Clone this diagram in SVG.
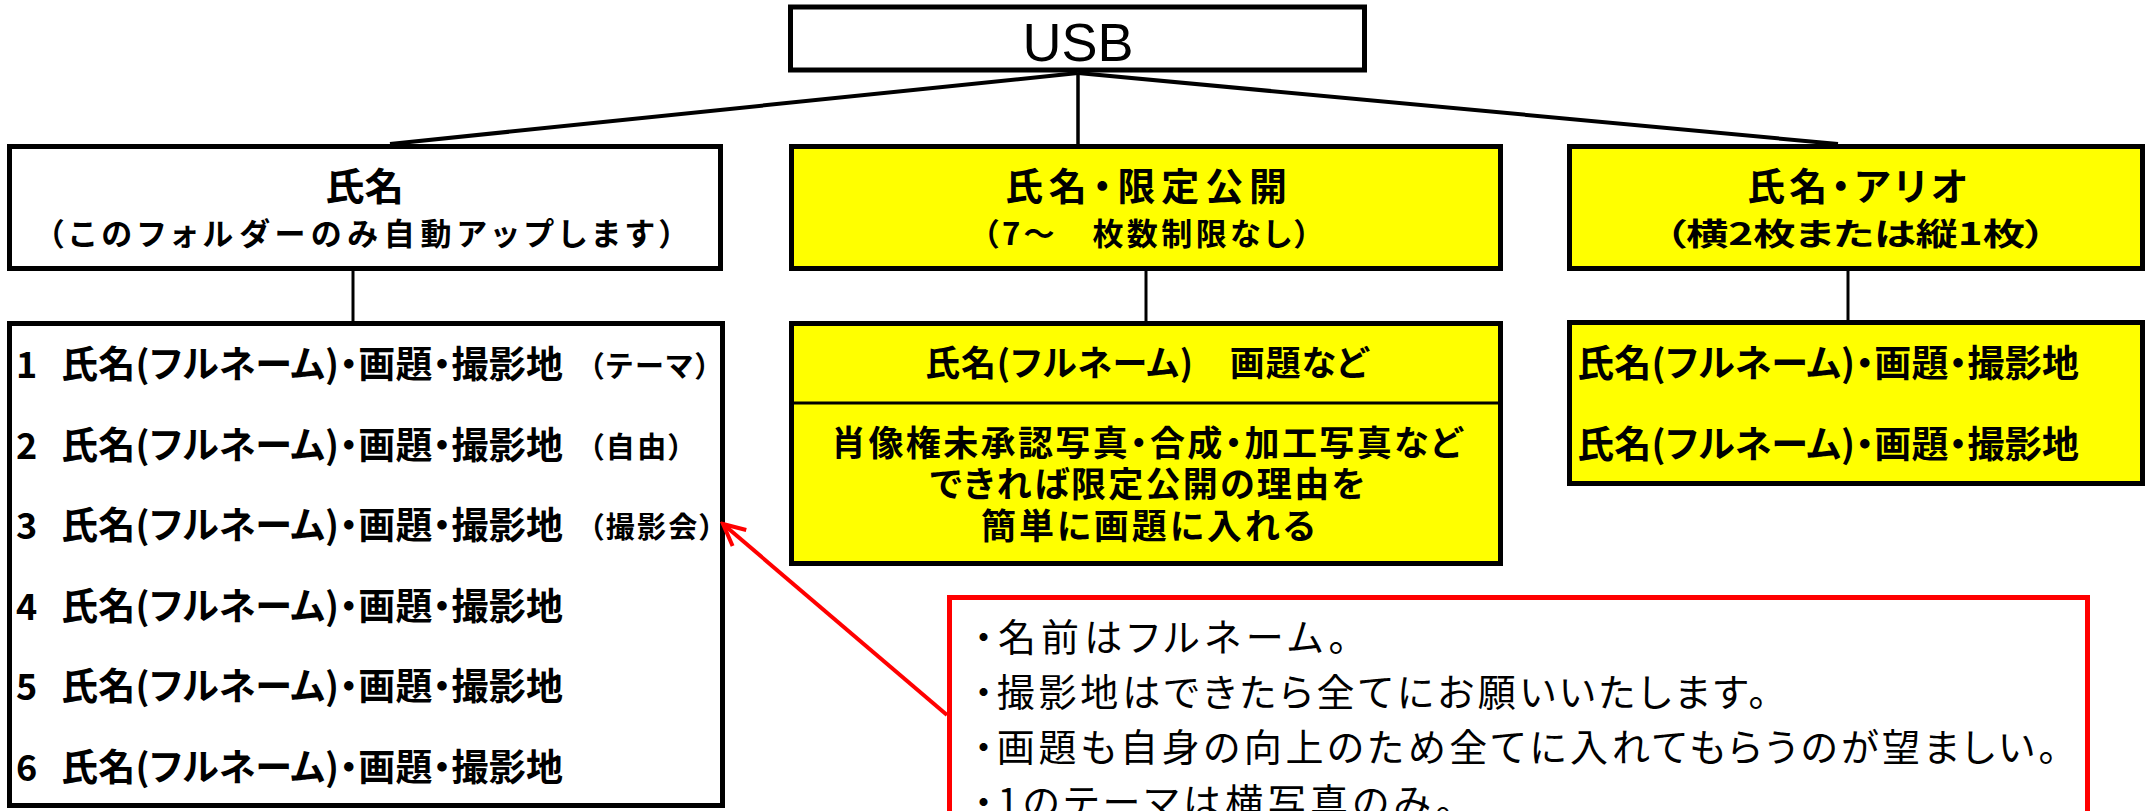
<svg xmlns="http://www.w3.org/2000/svg" width="2145" height="811" viewBox="0 0 2145 811">
<style>
.box{stroke:#000;stroke-width:5}
.w{fill:#fff}
.y{fill:#ffff00}
.conn{stroke:#000;fill:none}
.t{font-family:"Noto Sans CJK JP","Noto Sans CJK SC",sans-serif;font-weight:700;fill:#000;font-feature-settings:"palt"}
.r{font-family:"Noto Sans CJK JP","Noto Sans CJK SC",sans-serif;font-weight:400;fill:#000;font-size:38px;font-feature-settings:"palt"}
.h1{font-size:38px}
.h2{font-size:31px}
.row{font-size:37px}
.num{font-size:36px}
.suf{font-size:29px}
.mid{font-size:35px}
</style>
<defs>
<marker id="arr" markerUnits="userSpaceOnUse" markerWidth="26" markerHeight="26" viewBox="0 0 26 26" refX="23" refY="13" orient="auto">
<path d="M1.4,2.5 L23,13 L1.4,23.5" fill="none" stroke="#ff0000" stroke-width="4" stroke-linejoin="miter"/>
</marker>
</defs>
<rect width="2145" height="811" fill="#fff"/>

<g id="connectors">
<line class="conn" x1="1078" y1="73" x2="390" y2="144" stroke-width="4"/>
<line class="conn" x1="1078" y1="73" x2="1078" y2="144" stroke-width="3.5"/>
<line class="conn" x1="1078" y1="73" x2="1838" y2="144" stroke-width="4"/>
<line class="conn" x1="353" y1="271" x2="353" y2="321" stroke-width="3"/>
<line class="conn" x1="1146" y1="271" x2="1146" y2="321" stroke-width="3"/>
<line class="conn" x1="1848" y1="271" x2="1848" y2="321" stroke-width="3"/>
</g>

<g id="usb">
<rect class="box w" x="790.5" y="7" width="574" height="63"/>
<text x="1078" y="60.5" text-anchor="middle" font-family="Liberation Sans, Arial, sans-serif" font-size="54" fill="#000">USB</text>
</g>

<g id="folder-name">
<rect class="box w" x="9.5" y="146.5" width="711" height="122"/>
<text class="t h1" x="325" y="200" textLength="79" lengthAdjust="spacingAndGlyphs">氏名</text>
<text class="t h2" x="48" y="245" textLength="627" lengthAdjust="spacing">（このフォルダーのみ自動アップします）</text>
</g>

<g id="folder-limited">
<rect class="box y" x="791.5" y="146.5" width="709" height="122"/>
<text class="t h1" x="1005" y="200" textLength="282" lengthAdjust="spacing">氏名・限定公開</text>
<text class="t h2" x="983" y="245" textLength="327" lengthAdjust="spacing">（7～　枚数制限なし）</text>
</g>

<g id="folder-ario">
<rect class="box y" x="1569.5" y="146.5" width="573" height="122"/>
<text class="t h1" x="1747" y="200" textLength="220" lengthAdjust="spacing">氏名・アリオ</text>
<text class="t h2" x="1665" y="245" textLength="381" lengthAdjust="spacingAndGlyphs">（横2枚または縦1枚）</text>
</g>

<g id="list-name">
<rect class="box w" x="9.5" y="323.5" width="713" height="482"/>
<text class="t num" x="16" y="378">1</text>
<text class="t row" x="61" y="378" textLength="502" lengthAdjust="spacing">氏名(フルネーム)・画題・撮影地</text>
<text class="t suf" x="589" y="377" textLength="121" lengthAdjust="spacing">（テーマ）</text>
<text class="t num" x="16" y="458.5">2</text>
<text class="t row" x="61" y="458.5" textLength="502" lengthAdjust="spacing">氏名(フルネーム)・画題・撮影地</text>
<text class="t suf" x="589" y="457.5" textLength="94" lengthAdjust="spacing">（自由）</text>
<text class="t num" x="16" y="539">3</text>
<text class="t row" x="61" y="539" textLength="502" lengthAdjust="spacing">氏名(フルネーム)・画題・撮影地</text>
<text class="t suf" x="589" y="538" textLength="125" lengthAdjust="spacing">（撮影会）</text>
<text class="t num" x="16" y="619.5">4</text>
<text class="t row" x="61" y="619.5" textLength="502" lengthAdjust="spacing">氏名(フルネーム)・画題・撮影地</text>
<text class="t num" x="16" y="700">5</text>
<text class="t row" x="61" y="700" textLength="502" lengthAdjust="spacing">氏名(フルネーム)・画題・撮影地</text>
<text class="t num" x="16" y="780.5">6</text>
<text class="t row" x="61" y="780.5" textLength="502" lengthAdjust="spacing">氏名(フルネーム)・画題・撮影地</text>
</g>

<g id="list-limited">
<rect class="box y" x="791.5" y="323.5" width="709" height="240"/>
<line x1="791.5" y1="403" x2="1500.5" y2="403" stroke="#000" stroke-width="3"/>
<text class="t mid" x="925" y="376" textLength="443" lengthAdjust="spacing">氏名(フルネーム)　画題など</text>
<text class="t mid" x="831" y="456" textLength="631" lengthAdjust="spacing">肖像権未承認写真・合成・加工写真など</text>
<text class="t mid" x="930" y="497" textLength="435" lengthAdjust="spacing">できれば限定公開の理由を</text>
<text class="t mid" x="981" y="539" textLength="334" lengthAdjust="spacing">簡単に画題に入れる</text>
</g>

<g id="list-ario">
<rect class="box y" x="1569.5" y="322.5" width="573" height="161"/>
<text class="t row" x="1577" y="377" textLength="502" lengthAdjust="spacing">氏名(フルネーム)・画題・撮影地</text>
<text class="t row" x="1577" y="458" textLength="502" lengthAdjust="spacing">氏名(フルネーム)・画題・撮影地</text>
</g>

<g id="note">
<rect x="949.5" y="597.5" width="1138" height="260" fill="#fff" stroke="#ff0000" stroke-width="5"/>
<text class="r" x="974" y="651" textLength="373" lengthAdjust="spacing">・名前はフルネーム。</text>
<text class="r" x="974" y="706" textLength="793" lengthAdjust="spacing">・撮影地はできたら全てにお願いいたします。</text>
<text class="r" x="974" y="761" textLength="1083" lengthAdjust="spacing">・画題も自身の向上のため全てに入れてもらうのが望ましい。</text>
<text class="r" x="974" y="816" textLength="480" lengthAdjust="spacing">・1のテーマは横写真のみ。</text>
</g>

<g id="note-arrow">
<line x1="947" y1="715" x2="723" y2="524" stroke="#ff0000" stroke-width="4" marker-end="url(#arr)"/>
</g>
</svg>
